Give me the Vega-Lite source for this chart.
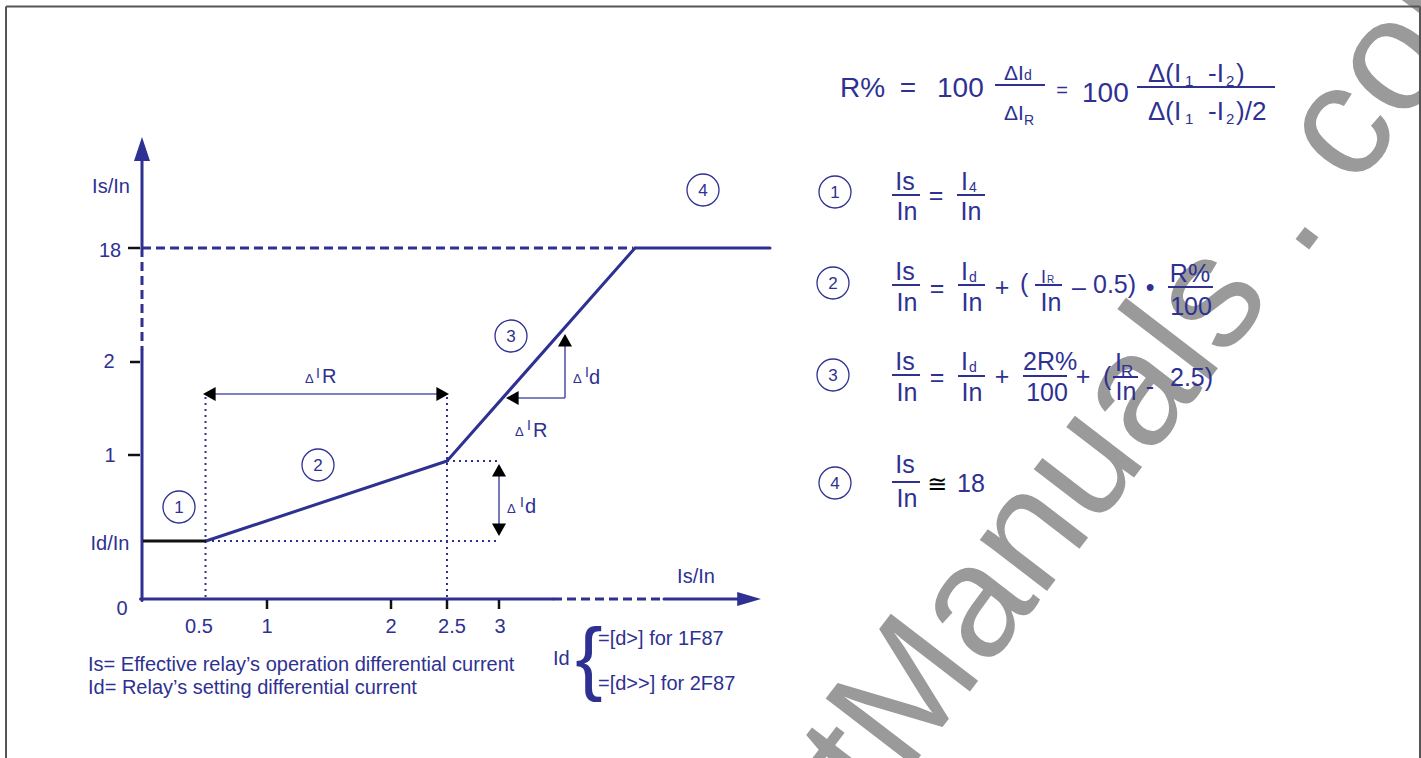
{
  "$schema": "https://vega.github.io/schema/vega-lite/v6.json",
  "width": 1421,
  "height": 758,
  "padding": 0,
  "autosize": {"type": "none"},
  "background": "white",
  "config": {"view": {"stroke": null}, "text": {"font": "Liberation Sans"}},
  "datasets": {
    "frame": [
      {"x": 6, "y": 6.5, "x2": 6, "y2": 760},
      {"x": 6, "y": 6.5, "x2": 1420, "y2": 6.5},
      {"x": 1420, "y": 6.5, "x2": 1420, "y2": 760}
    ],
    "watermarkA": [{"x": 905, "y": 776, "t": "www . ElectricalPart"}],
    "watermarkB": [{"x": 905, "y": 776, "t": "Manuals . com"}],
    "blueSolid": [
      {"x": 142, "y": 158, "x2": 142, "y2": 248},
      {"x": 142, "y": 350, "x2": 142, "y2": 600.5},
      {"x": 140.5, "y": 599, "x2": 553, "y2": 599},
      {"x": 664, "y": 599, "x2": 742, "y2": 599},
      {"x": 206, "y": 541, "x2": 447, "y2": 461},
      {"x": 447, "y": 461, "x2": 635, "y2": 248},
      {"x": 635, "y": 248, "x2": 770, "y2": 248}
    ],
    "blueDash": [
      {"x": 142, "y": 248, "x2": 142, "y2": 350},
      {"x": 142, "y": 248, "x2": 633, "y2": 248},
      {"x": 553, "y": 599, "x2": 664, "y2": 599}
    ],
    "blueDot": [
      {"x": 205.5, "y": 397, "x2": 205.5, "y2": 598},
      {"x": 447, "y": 397, "x2": 447, "y2": 598},
      {"x": 206, "y": 541, "x2": 499, "y2": 541},
      {"x": 447, "y": 461, "x2": 499, "y2": 461}
    ],
    "blackSeg": [
      {"x": 143, "y": 541, "x2": 206, "y2": 541}
    ],
    "ticks": [
      {"x": 128, "y": 248, "x2": 140, "y2": 248},
      {"x": 130, "y": 362, "x2": 140, "y2": 362},
      {"x": 128, "y": 455, "x2": 140, "y2": 455},
      {"x": 267, "y": 600, "x2": 267, "y2": 609},
      {"x": 391, "y": 600, "x2": 391, "y2": 609},
      {"x": 447, "y": 600, "x2": 447, "y2": 609},
      {"x": 499, "y": 600, "x2": 499, "y2": 609}
    ],
    "shafts": [
      {"x": 206, "y": 394, "x2": 446, "y2": 394},
      {"x": 499, "y": 466, "x2": 499, "y2": 534},
      {"x": 565, "y": 338, "x2": 565, "y2": 398},
      {"x": 509, "y": 398, "x2": 565, "y2": 398}
    ],
    "bars": [
      {"x": 892, "y": 195, "x2": 920, "y2": 195},
      {"x": 957, "y": 195, "x2": 985, "y2": 195},
      {"x": 892, "y": 285, "x2": 920, "y2": 285},
      {"x": 958, "y": 285, "x2": 985, "y2": 285},
      {"x": 1035, "y": 285, "x2": 1062, "y2": 285},
      {"x": 1168, "y": 287, "x2": 1213, "y2": 287},
      {"x": 892, "y": 375, "x2": 920, "y2": 375},
      {"x": 958, "y": 376, "x2": 985, "y2": 376},
      {"x": 1023, "y": 376, "x2": 1067, "y2": 376},
      {"x": 1113, "y": 377, "x2": 1138, "y2": 377},
      {"x": 892, "y": 482, "x2": 920, "y2": 482},
      {"x": 995, "y": 85, "x2": 1045, "y2": 85},
      {"x": 1137, "y": 87, "x2": 1275, "y2": 87}
    ],
    "bigArrows": [
      {"x": 142, "y": 137, "dir": "up"},
      {"x": 761, "y": 599, "dir": "right"}
    ],
    "smallArrows": [
      {"x": 203, "y": 394, "dir": "left"},
      {"x": 449, "y": 394, "dir": "right"},
      {"x": 499, "y": 464, "dir": "up"},
      {"x": 499, "y": 536, "dir": "down"},
      {"x": 565, "y": 334, "dir": "up"},
      {"x": 506, "y": 398, "dir": "left"}
    ],
    "circles": [
      {"x": 179, "y": 507, "n": "1"},
      {"x": 318, "y": 465, "n": "2"},
      {"x": 511, "y": 336, "n": "3"},
      {"x": 703, "y": 190, "n": "4"},
      {"x": 835, "y": 192, "n": "1"},
      {"x": 833, "y": 283, "n": "2"},
      {"x": 833, "y": 375, "n": "3"},
      {"x": 835, "y": 483, "n": "4"}
    ],
    "t20c": [
      {"x": 111, "y": 193, "t": "Is/In"},
      {"x": 110, "y": 257, "t": "18"},
      {"x": 109, "y": 368, "t": "2"},
      {"x": 110, "y": 462, "t": "1"},
      {"x": 110, "y": 550, "t": "Id/In"},
      {"x": 122, "y": 615, "t": "0"},
      {"x": 199, "y": 633, "t": "0.5"},
      {"x": 267, "y": 633, "t": "1"},
      {"x": 391, "y": 633, "t": "2"},
      {"x": 452, "y": 633, "t": "2.5"},
      {"x": 500, "y": 633, "t": "3"},
      {"x": 696, "y": 583, "t": "Is/In"}
    ],
    "t20l": [
      {"x": 88, "y": 671, "t": "Is= Effective relay’s operation differential current"},
      {"x": 88, "y": 694, "t": "Id= Relay’s setting differential current"},
      {"x": 553, "y": 665, "t": "Id"},
      {"x": 598, "y": 645, "t": "=[d>] for 1F87"},
      {"x": 598, "y": 690, "t": "=[d>>] for 2F87"}
    ],
    "brace": [{"x": 589, "y": 685, "t": "{"}],
    "deltaSmall": [
      {"x": 305, "y": 383, "t": "Δ"},
      {"x": 507, "y": 513, "t": "Δ"},
      {"x": 573, "y": 383, "t": "Δ"},
      {"x": 515, "y": 436, "t": "Δ"}
    ],
    "supI": [
      {"x": 316, "y": 378, "t": "I"},
      {"x": 520, "y": 507, "t": "I"},
      {"x": 585, "y": 377, "t": "I"},
      {"x": 527, "y": 430, "t": "I"}
    ],
    "deltaBig": [
      {"x": 322, "y": 383, "t": "R"},
      {"x": 525, "y": 513, "t": "d"},
      {"x": 589, "y": 384, "t": "d"},
      {"x": 533, "y": 437, "t": "R"}
    ],
    "h28l": [
      {"x": 840, "y": 97, "t": "R%"},
      {"x": 937, "y": 97, "t": "100"},
      {"x": 1082, "y": 102, "t": "100"}
    ],
    "h28c": [{"x": 908, "y": 97, "t": "="}],
    "h20c": [{"x": 1062, "y": 97, "t": "="}],
    "h21l": [
      {"x": 1004, "y": 80, "t": "ΔI"},
      {"x": 1004, "y": 120, "t": "ΔI"}
    ],
    "h26l": [
      {"x": 1148, "y": 82, "t": "Δ(I"},
      {"x": 1208, "y": 82, "t": "-I"},
      {"x": 1236, "y": 82, "t": ")"},
      {"x": 1148, "y": 120, "t": "Δ(I"},
      {"x": 1208, "y": 120, "t": "-I"},
      {"x": 1236, "y": 120, "t": ")/2"}
    ],
    "h15l": [
      {"x": 1185, "y": 86, "t": "1"},
      {"x": 1226, "y": 86, "t": "2"},
      {"x": 1185, "y": 124, "t": "1"},
      {"x": 1226, "y": 124, "t": "2"}
    ],
    "sub14": [
      {"x": 1024, "y": 80, "t": "d"},
      {"x": 1024, "y": 125, "t": "R"},
      {"x": 969, "y": 192, "t": "4"},
      {"x": 969, "y": 282, "t": "d"},
      {"x": 969, "y": 372, "t": "d"}
    ],
    "f25c": [
      {"x": 905, "y": 190, "t": "Is"},
      {"x": 907, "y": 220, "t": "In"},
      {"x": 936, "y": 204, "t": "="},
      {"x": 971, "y": 220, "t": "In"},
      {"x": 905, "y": 280, "t": "Is"},
      {"x": 907, "y": 311, "t": "In"},
      {"x": 937, "y": 297, "t": "="},
      {"x": 972, "y": 311, "t": "In"},
      {"x": 1002, "y": 296, "t": "+"},
      {"x": 1051, "y": 311, "t": "In"},
      {"x": 1079, "y": 296, "t": "–"},
      {"x": 1150, "y": 296, "t": "•"},
      {"x": 1190, "y": 282, "t": "R%"},
      {"x": 1191, "y": 315, "t": "100"},
      {"x": 905, "y": 370, "t": "Is"},
      {"x": 907, "y": 401, "t": "In"},
      {"x": 937, "y": 386, "t": "="},
      {"x": 972, "y": 401, "t": "In"},
      {"x": 1002, "y": 385, "t": "+"},
      {"x": 1047, "y": 401, "t": "100"},
      {"x": 1083, "y": 385, "t": "+"},
      {"x": 1126, "y": 400, "t": "In"},
      {"x": 1150, "y": 395, "t": "-"},
      {"x": 905, "y": 473, "t": "Is"},
      {"x": 907, "y": 507, "t": "In"}
    ],
    "f25l": [
      {"x": 961, "y": 190, "t": "I"},
      {"x": 961, "y": 280, "t": "I"},
      {"x": 1020, "y": 292, "t": "("},
      {"x": 1093, "y": 293, "t": "0.5)"},
      {"x": 961, "y": 370, "t": "I"},
      {"x": 1023, "y": 370, "t": "2R%"},
      {"x": 1103, "y": 385, "t": "("},
      {"x": 1115, "y": 371, "t": "I"},
      {"x": 1170, "y": 386, "t": "2.5)"},
      {"x": 957, "y": 492, "t": "18"}
    ],
    "smallI": [{"x": 1041, "y": 283, "t": "I"}],
    "tinyR": [{"x": 1047, "y": 283, "t": "R"}],
    "midR": [{"x": 1121, "y": 377, "t": "R"}],
    "approx": [{"x": 937, "y": 492, "t": "≅"}]
  },
  "encoding": {
    "x": {"field": "x", "type": "quantitative", "scale": {"domain": [0, 1421], "range": [0, 1421], "nice": false, "zero": false}, "axis": null},
    "y": {"field": "y", "type": "quantitative", "scale": {"domain": [0, 758], "range": [0, 758], "nice": false, "zero": false}, "axis": null}
  },
  "layer": [
    {"data": {"name": "watermarkA"}, "mark": {"type": "text", "fontSize": 160, "angle": -52.5, "align": "right", "baseline": "alphabetic", "color": "#9a9a9a"}, "encoding": {"text": {"field": "t", "type": "nominal"}}},
    {"data": {"name": "watermarkB"}, "mark": {"type": "text", "fontSize": 160, "angle": -52.5, "align": "left", "baseline": "alphabetic", "color": "#9a9a9a"}, "encoding": {"text": {"field": "t", "type": "nominal"}}},
    {"data": {"name": "frame"}, "mark": {"type": "rule", "color": "#555555", "strokeWidth": 2}, "encoding": {"x2": {"field": "x2"}, "y2": {"field": "y2"}}},
    {"data": {"name": "blueDot"}, "mark": {"type": "rule", "color": "#2e3192", "strokeWidth": 2, "strokeDash": [2, 4]}, "encoding": {"x2": {"field": "x2"}, "y2": {"field": "y2"}}},
    {"data": {"name": "blueDash"}, "mark": {"type": "rule", "color": "#2e3192", "strokeWidth": 3, "strokeDash": [9, 5]}, "encoding": {"x2": {"field": "x2"}, "y2": {"field": "y2"}}},
    {"data": {"name": "blueSolid"}, "mark": {"type": "rule", "color": "#2e3192", "strokeWidth": 3, "strokeCap": "round"}, "encoding": {"x2": {"field": "x2"}, "y2": {"field": "y2"}}},
    {"data": {"name": "blackSeg"}, "mark": {"type": "rule", "color": "#111111", "strokeWidth": 3}, "encoding": {"x2": {"field": "x2"}, "y2": {"field": "y2"}}},
    {"data": {"name": "ticks"}, "mark": {"type": "rule", "color": "#111111", "strokeWidth": 2.5}, "encoding": {"x2": {"field": "x2"}, "y2": {"field": "y2"}}},
    {"data": {"name": "shafts"}, "mark": {"type": "rule", "color": "#5559a8", "strokeWidth": 1.6}, "encoding": {"x2": {"field": "x2"}, "y2": {"field": "y2"}}},
    {"data": {"name": "bars"}, "mark": {"type": "rule", "color": "#2e3192", "strokeWidth": 2}, "encoding": {"x2": {"field": "x2"}, "y2": {"field": "y2"}}},
    {"data": {"name": "bigArrows"}, "transform": [{"filter": "datum.dir === 'up'"}], "mark": {"type": "point", "shape": "M0,0L-1,3L1,3Z", "size": 256, "filled": true, "opacity": 1, "color": "#2e3192", "strokeWidth": 0}},
    {"data": {"name": "bigArrows"}, "transform": [{"filter": "datum.dir === 'right'"}], "mark": {"type": "point", "shape": "M0,0L-3.4,-1L-3.4,1Z", "size": 196, "filled": true, "opacity": 1, "color": "#2e3192", "strokeWidth": 0}},
    {"data": {"name": "smallArrows"}, "transform": [{"filter": "datum.dir === 'right'"}], "mark": {"type": "point", "shape": "M0,0L-1.8,-1L-1.8,1Z", "size": 196, "filled": true, "opacity": 1, "color": "#000000", "strokeWidth": 0}},
    {"data": {"name": "smallArrows"}, "transform": [{"filter": "datum.dir === 'left'"}], "mark": {"type": "point", "shape": "M0,0L1.8,-1L1.8,1Z", "size": 196, "filled": true, "opacity": 1, "color": "#000000", "strokeWidth": 0}},
    {"data": {"name": "smallArrows"}, "transform": [{"filter": "datum.dir === 'up'"}], "mark": {"type": "point", "shape": "M0,0L-1,1.8L1,1.8Z", "size": 196, "filled": true, "opacity": 1, "color": "#000000", "strokeWidth": 0}},
    {"data": {"name": "smallArrows"}, "transform": [{"filter": "datum.dir === 'down'"}], "mark": {"type": "point", "shape": "M0,0L-1,-1.8L1,-1.8Z", "size": 196, "filled": true, "opacity": 1, "color": "#000000", "strokeWidth": 0}},
    {"data": {"name": "circles"}, "mark": {"type": "point", "shape": "circle", "size": 1024, "filled": false, "opacity": 1, "color": "#2e3192", "strokeWidth": 1.3}},
    {"data": {"name": "circles"}, "mark": {"type": "text", "fontSize": 17, "align": "center", "baseline": "alphabetic", "dy": 6, "color": "#2e3192"}, "encoding": {"text": {"field": "n", "type": "nominal"}}},
    {"data": {"name": "t20c"}, "mark": {"type": "text", "fontSize": 20, "align": "center", "baseline": "alphabetic", "color": "#2e3192"}, "encoding": {"text": {"field": "t", "type": "nominal"}}},
    {"data": {"name": "t20l"}, "mark": {"type": "text", "fontSize": 20, "align": "left", "baseline": "alphabetic", "color": "#2e3192"}, "encoding": {"text": {"field": "t", "type": "nominal"}}},
    {"data": {"name": "brace"}, "mark": {"type": "text", "fontSize": 82, "fontWeight": "normal", "align": "center", "baseline": "alphabetic", "color": "#2e3192"}, "encoding": {"text": {"field": "t", "type": "nominal"}}},
    {"data": {"name": "deltaSmall"}, "mark": {"type": "text", "fontSize": 13, "align": "left", "baseline": "alphabetic", "color": "#2e3192"}, "encoding": {"text": {"field": "t", "type": "nominal"}}},
    {"data": {"name": "supI"}, "mark": {"type": "text", "fontSize": 14, "align": "left", "baseline": "alphabetic", "color": "#2e3192"}, "encoding": {"text": {"field": "t", "type": "nominal"}}},
    {"data": {"name": "deltaBig"}, "mark": {"type": "text", "fontSize": 20, "align": "left", "baseline": "alphabetic", "color": "#2e3192"}, "encoding": {"text": {"field": "t", "type": "nominal"}}},
    {"data": {"name": "h28l"}, "mark": {"type": "text", "fontSize": 28, "align": "left", "baseline": "alphabetic", "color": "#2e3192"}, "encoding": {"text": {"field": "t", "type": "nominal"}}},
    {"data": {"name": "h28c"}, "mark": {"type": "text", "fontSize": 28, "align": "center", "baseline": "alphabetic", "color": "#2e3192"}, "encoding": {"text": {"field": "t", "type": "nominal"}}},
    {"data": {"name": "h20c"}, "mark": {"type": "text", "fontSize": 20, "align": "center", "baseline": "alphabetic", "color": "#2e3192"}, "encoding": {"text": {"field": "t", "type": "nominal"}}},
    {"data": {"name": "h21l"}, "mark": {"type": "text", "fontSize": 21, "align": "left", "baseline": "alphabetic", "color": "#2e3192"}, "encoding": {"text": {"field": "t", "type": "nominal"}}},
    {"data": {"name": "h26l"}, "mark": {"type": "text", "fontSize": 26, "align": "left", "baseline": "alphabetic", "color": "#2e3192"}, "encoding": {"text": {"field": "t", "type": "nominal"}}},
    {"data": {"name": "h15l"}, "mark": {"type": "text", "fontSize": 15, "align": "left", "baseline": "alphabetic", "color": "#2e3192"}, "encoding": {"text": {"field": "t", "type": "nominal"}}},
    {"data": {"name": "sub14"}, "mark": {"type": "text", "fontSize": 14, "align": "left", "baseline": "alphabetic", "color": "#2e3192"}, "encoding": {"text": {"field": "t", "type": "nominal"}}},
    {"data": {"name": "f25c"}, "mark": {"type": "text", "fontSize": 25, "align": "center", "baseline": "alphabetic", "color": "#2e3192"}, "encoding": {"text": {"field": "t", "type": "nominal"}}},
    {"data": {"name": "f25l"}, "mark": {"type": "text", "fontSize": 25, "align": "left", "baseline": "alphabetic", "color": "#2e3192"}, "encoding": {"text": {"field": "t", "type": "nominal"}}},
    {"data": {"name": "smallI"}, "mark": {"type": "text", "fontSize": 18, "align": "left", "baseline": "alphabetic", "color": "#2e3192"}, "encoding": {"text": {"field": "t", "type": "nominal"}}},
    {"data": {"name": "tinyR"}, "mark": {"type": "text", "fontSize": 10, "align": "left", "baseline": "alphabetic", "color": "#2e3192"}, "encoding": {"text": {"field": "t", "type": "nominal"}}},
    {"data": {"name": "midR"}, "mark": {"type": "text", "fontSize": 17, "align": "left", "baseline": "alphabetic", "color": "#2e3192"}, "encoding": {"text": {"field": "t", "type": "nominal"}}},
    {"data": {"name": "approx"}, "mark": {"type": "text", "fontSize": 24, "font": "DejaVu Sans", "align": "center", "baseline": "alphabetic", "color": "#000000"}, "encoding": {"text": {"field": "t", "type": "nominal"}}}
  ]
}
